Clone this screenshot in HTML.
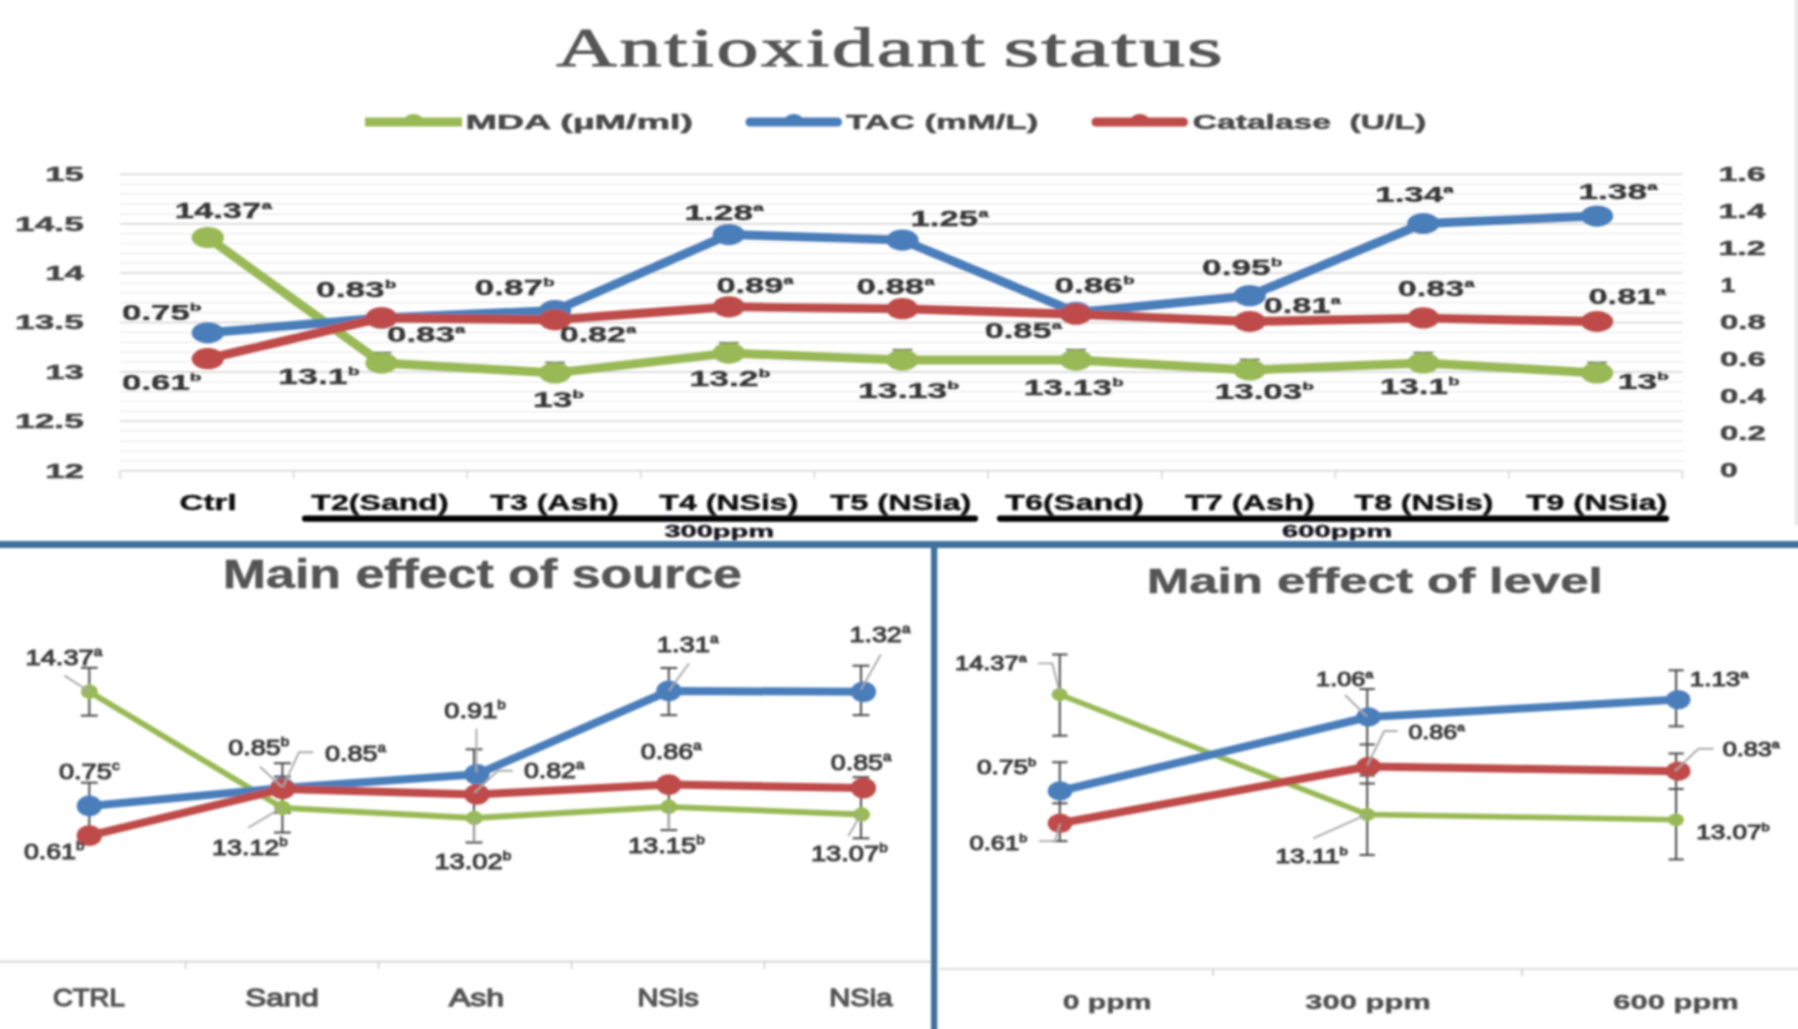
<!DOCTYPE html>
<html><head><meta charset="utf-8"><title>Antioxidant status</title>
<style>html,body{margin:0;padding:0;background:#fff;overflow:hidden}svg{display:block}</style>
</head><body>
<svg width="1798" height="1029" viewBox="0 0 1798 1029" font-family='"Liberation Sans", sans-serif'>
<rect width="1798" height="1029" fill="#fff"/>
<defs><filter id="soft" filterUnits="userSpaceOnUse" x="-20" y="-20" width="1840" height="1072"><feGaussianBlur stdDeviation="0.8"/></filter></defs>
<g filter="url(#soft)">
<g stroke="#ebebeb" stroke-width="1.2">
<line x1="120.0" x2="1682.5" y1="460.8" y2="460.8"/>
<line x1="120.0" x2="1682.5" y1="450.9" y2="450.9"/>
<line x1="120.0" x2="1682.5" y1="441.1" y2="441.1"/>
<line x1="120.0" x2="1682.5" y1="431.2" y2="431.2"/>
<line x1="120.0" x2="1682.5" y1="411.4" y2="411.4"/>
<line x1="120.0" x2="1682.5" y1="401.5" y2="401.5"/>
<line x1="120.0" x2="1682.5" y1="391.7" y2="391.7"/>
<line x1="120.0" x2="1682.5" y1="381.8" y2="381.8"/>
<line x1="120.0" x2="1682.5" y1="362.0" y2="362.0"/>
<line x1="120.0" x2="1682.5" y1="352.1" y2="352.1"/>
<line x1="120.0" x2="1682.5" y1="342.3" y2="342.3"/>
<line x1="120.0" x2="1682.5" y1="332.4" y2="332.4"/>
<line x1="120.0" x2="1682.5" y1="312.6" y2="312.6"/>
<line x1="120.0" x2="1682.5" y1="302.7" y2="302.7"/>
<line x1="120.0" x2="1682.5" y1="292.9" y2="292.9"/>
<line x1="120.0" x2="1682.5" y1="283.0" y2="283.0"/>
<line x1="120.0" x2="1682.5" y1="263.2" y2="263.2"/>
<line x1="120.0" x2="1682.5" y1="253.3" y2="253.3"/>
<line x1="120.0" x2="1682.5" y1="243.5" y2="243.5"/>
<line x1="120.0" x2="1682.5" y1="233.6" y2="233.6"/>
<line x1="120.0" x2="1682.5" y1="213.8" y2="213.8"/>
<line x1="120.0" x2="1682.5" y1="203.9" y2="203.9"/>
<line x1="120.0" x2="1682.5" y1="194.1" y2="194.1"/>
<line x1="120.0" x2="1682.5" y1="184.2" y2="184.2"/>
</g>
<g stroke="#d3d3d3" stroke-width="1.5">
<line x1="120.0" x2="1682.5" y1="470.7" y2="470.7"/>
<line x1="120.0" x2="1682.5" y1="421.3" y2="421.3"/>
<line x1="120.0" x2="1682.5" y1="371.9" y2="371.9"/>
<line x1="120.0" x2="1682.5" y1="322.5" y2="322.5"/>
<line x1="120.0" x2="1682.5" y1="273.1" y2="273.1"/>
<line x1="120.0" x2="1682.5" y1="223.7" y2="223.7"/>
<line x1="120.0" x2="1682.5" y1="174.3" y2="174.3"/>
<line x1="120.0" x2="120.0" y1="470.7" y2="478.7"/>
<line x1="293.6" x2="293.6" y1="470.7" y2="478.7"/>
<line x1="467.2" x2="467.2" y1="470.7" y2="478.7"/>
<line x1="640.8" x2="640.8" y1="470.7" y2="478.7"/>
<line x1="814.4" x2="814.4" y1="470.7" y2="478.7"/>
<line x1="988.1" x2="988.1" y1="470.7" y2="478.7"/>
<line x1="1161.7" x2="1161.7" y1="470.7" y2="478.7"/>
<line x1="1335.3" x2="1335.3" y1="470.7" y2="478.7"/>
<line x1="1508.9" x2="1508.9" y1="470.7" y2="478.7"/>
<line x1="1682.5" x2="1682.5" y1="470.7" y2="478.7"/>
</g>
<rect x="1795.5" y="-10" width="1.6" height="535" fill="#d6d6d6"/><rect x="1797.1" y="-10" width="4" height="535" fill="#f1f1f1"/>
<text y="65.8" font-size="54" font-weight="normal" fill="#555555" stroke="#555555" stroke-width="1.0" font-family='"Liberation Serif", serif'><tspan x="556.3" textLength="431.2" lengthAdjust="spacingAndGlyphs" letter-spacing="1.8">Antioxidant</tspan> <tspan x="1003.4" textLength="221.5" lengthAdjust="spacingAndGlyphs" letter-spacing="1.2">status</tspan></text>

<line x1="365" x2="462" y1="122" y2="122" stroke="#98b954" stroke-width="9" stroke-linecap="butt"/>
<ellipse cx="413.5" cy="119.8" rx="9" ry="5.9" fill="#98b954"/>
<line x1="750" x2="837.5" y1="122" y2="122" stroke="#4a7ebb" stroke-width="9" stroke-linecap="round"/>
<ellipse cx="793.8" cy="119.8" rx="9" ry="5.9" fill="#4a7ebb"/>
<line x1="1096" x2="1183.5" y1="122" y2="122" stroke="#be4b48" stroke-width="9" stroke-linecap="round"/>
<ellipse cx="1139.8" cy="119.8" rx="9" ry="5.9" fill="#be4b48"/>
<text x="465.4" y="128.9" font-size="21" font-weight="bold" fill="#484848" stroke="#484848" stroke-width="0.5" textLength="227.7" lengthAdjust="spacingAndGlyphs">MDA (µM/ml)</text>
<text x="846.1" y="128.9" font-size="21" font-weight="bold" fill="#484848" stroke="#484848" stroke-width="0.5" textLength="192.1" lengthAdjust="spacingAndGlyphs">TAC (mM/L)</text>
<text x="1192.8" y="128.9" font-size="21" font-weight="bold" fill="#484848" stroke="#484848" stroke-width="0.5" textLength="233.3" lengthAdjust="spacingAndGlyphs">Catalase  (U/L)</text>
<text x="45.3" y="181.1" font-size="19.5" font-weight="bold" fill="#444444" stroke="#444444" stroke-width="0.5" textLength="38.6" lengthAdjust="spacingAndGlyphs">15</text>
<text x="15.1" y="230.5" font-size="19.5" font-weight="bold" fill="#444444" stroke="#444444" stroke-width="0.5" textLength="68.7" lengthAdjust="spacingAndGlyphs">14.5</text>
<text x="45.3" y="279.9" font-size="19.5" font-weight="bold" fill="#444444" stroke="#444444" stroke-width="0.5" textLength="38.6" lengthAdjust="spacingAndGlyphs">14</text>
<text x="15.1" y="329.3" font-size="19.5" font-weight="bold" fill="#444444" stroke="#444444" stroke-width="0.5" textLength="68.7" lengthAdjust="spacingAndGlyphs">13.5</text>
<text x="45.3" y="378.7" font-size="19.5" font-weight="bold" fill="#444444" stroke="#444444" stroke-width="0.5" textLength="38.6" lengthAdjust="spacingAndGlyphs">13</text>
<text x="15.1" y="428.1" font-size="19.5" font-weight="bold" fill="#444444" stroke="#444444" stroke-width="0.5" textLength="68.7" lengthAdjust="spacingAndGlyphs">12.5</text>
<text x="45.3" y="477.5" font-size="19.5" font-weight="bold" fill="#444444" stroke="#444444" stroke-width="0.5" textLength="38.6" lengthAdjust="spacingAndGlyphs">12</text>
<text x="1718.4" y="181.1" font-size="19.5" font-weight="bold" fill="#444444" stroke="#444444" stroke-width="0.5" textLength="47.4" lengthAdjust="spacingAndGlyphs">1.6</text>
<text x="1718.4" y="218.1" font-size="19.5" font-weight="bold" fill="#444444" stroke="#444444" stroke-width="0.5" textLength="47.4" lengthAdjust="spacingAndGlyphs">1.4</text>
<text x="1718.4" y="255.1" font-size="19.5" font-weight="bold" fill="#444444" stroke="#444444" stroke-width="0.5" textLength="47.4" lengthAdjust="spacingAndGlyphs">1.2</text>
<text x="1720.5" y="292.1" font-size="19.5" font-weight="bold" fill="#444444" stroke="#444444" stroke-width="0.5" textLength="15.0" lengthAdjust="spacingAndGlyphs">1</text>
<text x="1720.1" y="329.1" font-size="19.5" font-weight="bold" fill="#444444" stroke="#444444" stroke-width="0.5" textLength="45.7" lengthAdjust="spacingAndGlyphs">0.8</text>
<text x="1720.1" y="366.1" font-size="19.5" font-weight="bold" fill="#444444" stroke="#444444" stroke-width="0.5" textLength="45.7" lengthAdjust="spacingAndGlyphs">0.6</text>
<text x="1720.1" y="403.1" font-size="19.5" font-weight="bold" fill="#444444" stroke="#444444" stroke-width="0.5" textLength="45.7" lengthAdjust="spacingAndGlyphs">0.4</text>
<text x="1720.1" y="440.1" font-size="19.5" font-weight="bold" fill="#444444" stroke="#444444" stroke-width="0.5" textLength="45.7" lengthAdjust="spacingAndGlyphs">0.2</text>
<text x="1720.1" y="477.1" font-size="19.5" font-weight="bold" fill="#444444" stroke="#444444" stroke-width="0.5" textLength="17.7" lengthAdjust="spacingAndGlyphs">0</text>
<g stroke="#444" stroke-width="1.5">
<line x1="371.5" x2="391.5" y1="352.6" y2="352.6"/>
<line x1="545.1" x2="565.1" y1="362.5" y2="362.5"/>
<line x1="718.8" x2="738.8" y1="342.7" y2="342.7"/>
<line x1="892.4" x2="912.4" y1="349.7" y2="349.7"/>
<line x1="1066.0" x2="1086.0" y1="349.7" y2="349.7"/>
<line x1="1239.7" x2="1259.7" y1="359.5" y2="359.5"/>
<line x1="1413.3" x2="1433.3" y1="352.6" y2="352.6"/>
<line x1="1587.0" x2="1607.0" y1="362.5" y2="362.5"/>
</g>
<polyline points="207.8,237.5 381.5,363.0 555.1,372.9 728.8,353.1 902.4,360.1 1076.0,360.1 1249.7,369.9 1423.3,363.0 1597.0,372.9" fill="none" stroke="#98b954" stroke-width="9" stroke-linejoin="round" stroke-linecap="round"/>
<ellipse cx="207.8" cy="237.5" rx="16.2" ry="10.6" fill="#98b954"/>
<ellipse cx="381.5" cy="363.0" rx="16.2" ry="10.6" fill="#98b954"/>
<ellipse cx="555.1" cy="372.9" rx="16.2" ry="10.6" fill="#98b954"/>
<ellipse cx="728.8" cy="353.1" rx="16.2" ry="10.6" fill="#98b954"/>
<ellipse cx="902.4" cy="360.1" rx="16.2" ry="10.6" fill="#98b954"/>
<ellipse cx="1076.0" cy="360.1" rx="16.2" ry="10.6" fill="#98b954"/>
<ellipse cx="1249.7" cy="369.9" rx="16.2" ry="10.6" fill="#98b954"/>
<ellipse cx="1423.3" cy="363.0" rx="16.2" ry="10.6" fill="#98b954"/>
<ellipse cx="1597.0" cy="372.9" rx="16.2" ry="10.6" fill="#98b954"/>
<polyline points="207.8,332.8 381.5,317.9 555.1,310.5 728.8,234.6 902.4,240.1 1076.0,312.4 1249.7,295.7 1423.3,223.5 1597.0,216.1" fill="none" stroke="#4a7ebb" stroke-width="9" stroke-linejoin="round" stroke-linecap="round"/>
<ellipse cx="207.8" cy="332.8" rx="16.2" ry="10.6" fill="#4a7ebb"/>
<ellipse cx="381.5" cy="317.9" rx="16.2" ry="10.6" fill="#4a7ebb"/>
<ellipse cx="555.1" cy="310.5" rx="16.2" ry="10.6" fill="#4a7ebb"/>
<ellipse cx="728.8" cy="234.6" rx="16.2" ry="10.6" fill="#4a7ebb"/>
<ellipse cx="902.4" cy="240.1" rx="16.2" ry="10.6" fill="#4a7ebb"/>
<ellipse cx="1076.0" cy="312.4" rx="16.2" ry="10.6" fill="#4a7ebb"/>
<ellipse cx="1249.7" cy="295.7" rx="16.2" ry="10.6" fill="#4a7ebb"/>
<ellipse cx="1423.3" cy="223.5" rx="16.2" ry="10.6" fill="#4a7ebb"/>
<ellipse cx="1597.0" cy="216.1" rx="16.2" ry="10.6" fill="#4a7ebb"/>
<polyline points="207.8,358.7 381.5,317.9 555.1,319.8 728.8,306.8 902.4,308.7 1076.0,314.2 1249.7,321.6 1423.3,317.9 1597.0,321.6" fill="none" stroke="#be4b48" stroke-width="9" stroke-linejoin="round" stroke-linecap="round"/>
<ellipse cx="207.8" cy="358.7" rx="16.2" ry="10.6" fill="#be4b48"/>
<ellipse cx="381.5" cy="317.9" rx="16.2" ry="10.6" fill="#be4b48"/>
<ellipse cx="555.1" cy="319.8" rx="16.2" ry="10.6" fill="#be4b48"/>
<ellipse cx="728.8" cy="306.8" rx="16.2" ry="10.6" fill="#be4b48"/>
<ellipse cx="902.4" cy="308.7" rx="16.2" ry="10.6" fill="#be4b48"/>
<ellipse cx="1076.0" cy="314.2" rx="16.2" ry="10.6" fill="#be4b48"/>
<ellipse cx="1249.7" cy="321.6" rx="16.2" ry="10.6" fill="#be4b48"/>
<ellipse cx="1423.3" cy="317.9" rx="16.2" ry="10.6" fill="#be4b48"/>
<ellipse cx="1597.0" cy="321.6" rx="16.2" ry="10.6" fill="#be4b48"/>
<text x="174.7" y="217.6" font-size="21.3" font-weight="bold" fill="#383838" stroke="#383838" stroke-width="0.5" textLength="97.3" lengthAdjust="spacingAndGlyphs">14.37<tspan font-size="11.7" dy="-8.9" stroke-width="0.45">a</tspan></text>
<text x="122.1" y="320.3" font-size="21.3" font-weight="bold" fill="#383838" stroke="#383838" stroke-width="0.5" textLength="79.4" lengthAdjust="spacingAndGlyphs">0.75<tspan font-size="11.7" dy="-8.9" stroke-width="0.45">b</tspan></text>
<text x="122.1" y="389.6" font-size="21.3" font-weight="bold" fill="#383838" stroke="#383838" stroke-width="0.5" textLength="79.4" lengthAdjust="spacingAndGlyphs">0.61<tspan font-size="11.7" dy="-8.9" stroke-width="0.45">b</tspan></text>
<text x="316.1" y="297.0" font-size="21.3" font-weight="bold" fill="#383838" stroke="#383838" stroke-width="0.5" textLength="80.4" lengthAdjust="spacingAndGlyphs">0.83<tspan font-size="11.7" dy="-8.9" stroke-width="0.45">b</tspan></text>
<text x="474.7" y="295.3" font-size="21.3" font-weight="bold" fill="#383838" stroke="#383838" stroke-width="0.5" textLength="80.1" lengthAdjust="spacingAndGlyphs">0.87<tspan font-size="11.7" dy="-8.9" stroke-width="0.45">b</tspan></text>
<text x="387.1" y="342.0" font-size="21.3" font-weight="bold" fill="#383838" stroke="#383838" stroke-width="0.5" textLength="78.4" lengthAdjust="spacingAndGlyphs">0.83<tspan font-size="11.7" dy="-8.9" stroke-width="0.45">a</tspan></text>
<text x="278.0" y="383.6" font-size="21.3" font-weight="bold" fill="#383838" stroke="#383838" stroke-width="0.5" textLength="81.8" lengthAdjust="spacingAndGlyphs">13.1<tspan font-size="11.7" dy="-8.9" stroke-width="0.45">b</tspan></text>
<text x="533.1" y="407.3" font-size="21.3" font-weight="bold" fill="#383838" stroke="#383838" stroke-width="0.5" textLength="51.1" lengthAdjust="spacingAndGlyphs">13<tspan font-size="11.7" dy="-8.9" stroke-width="0.45">b</tspan></text>
<text x="684.5" y="219.6" font-size="21.3" font-weight="bold" fill="#383838" stroke="#383838" stroke-width="0.5" textLength="79.3" lengthAdjust="spacingAndGlyphs">1.28<tspan font-size="11.7" dy="-8.9" stroke-width="0.45">a</tspan></text>
<text x="910.5" y="226.0" font-size="21.3" font-weight="bold" fill="#383838" stroke="#383838" stroke-width="0.5" textLength="78.3" lengthAdjust="spacingAndGlyphs">1.25<tspan font-size="11.7" dy="-8.9" stroke-width="0.45">a</tspan></text>
<text x="716.4" y="292.6" font-size="21.3" font-weight="bold" fill="#383838" stroke="#383838" stroke-width="0.5" textLength="77.4" lengthAdjust="spacingAndGlyphs">0.89<tspan font-size="11.7" dy="-8.9" stroke-width="0.45">a</tspan></text>
<text x="856.4" y="293.6" font-size="21.3" font-weight="bold" fill="#383838" stroke="#383838" stroke-width="0.5" textLength="78.4" lengthAdjust="spacingAndGlyphs">0.88<tspan font-size="11.7" dy="-8.9" stroke-width="0.45">a</tspan></text>
<text x="559.7" y="342.0" font-size="21.3" font-weight="bold" fill="#383838" stroke="#383838" stroke-width="0.5" textLength="76.8" lengthAdjust="spacingAndGlyphs">0.82<tspan font-size="11.7" dy="-8.9" stroke-width="0.45">a</tspan></text>
<text x="984.7" y="338.0" font-size="21.3" font-weight="bold" fill="#383838" stroke="#383838" stroke-width="0.5" textLength="77.4" lengthAdjust="spacingAndGlyphs">0.85<tspan font-size="11.7" dy="-8.9" stroke-width="0.45">a</tspan></text>
<text x="689.4" y="386.0" font-size="21.3" font-weight="bold" fill="#383838" stroke="#383838" stroke-width="0.5" textLength="81.1" lengthAdjust="spacingAndGlyphs">13.2<tspan font-size="11.7" dy="-8.9" stroke-width="0.45">b</tspan></text>
<text x="858.0" y="397.6" font-size="21.3" font-weight="bold" fill="#383838" stroke="#383838" stroke-width="0.5" textLength="101.1" lengthAdjust="spacingAndGlyphs">13.13<tspan font-size="11.7" dy="-8.9" stroke-width="0.45">b</tspan></text>
<text x="1023.8" y="394.8" font-size="21.3" font-weight="bold" fill="#383838" stroke="#383838" stroke-width="0.5" textLength="100.1" lengthAdjust="spacingAndGlyphs">13.13<tspan font-size="11.7" dy="-8.9" stroke-width="0.45">b</tspan></text>
<text x="1054.4" y="293.0" font-size="21.3" font-weight="bold" fill="#383838" stroke="#383838" stroke-width="0.5" textLength="80.4" lengthAdjust="spacingAndGlyphs">0.86<tspan font-size="11.7" dy="-8.9" stroke-width="0.45">b</tspan></text>
<text x="1202.1" y="275.3" font-size="21.3" font-weight="bold" fill="#383838" stroke="#383838" stroke-width="0.5" textLength="80.4" lengthAdjust="spacingAndGlyphs">0.95<tspan font-size="11.7" dy="-8.9" stroke-width="0.45">b</tspan></text>
<text x="1263.7" y="313.0" font-size="21.3" font-weight="bold" fill="#383838" stroke="#383838" stroke-width="0.5" textLength="77.4" lengthAdjust="spacingAndGlyphs">0.81<tspan font-size="11.7" dy="-8.9" stroke-width="0.45">a</tspan></text>
<text x="1397.7" y="296.0" font-size="21.3" font-weight="bold" fill="#383838" stroke="#383838" stroke-width="0.5" textLength="77.1" lengthAdjust="spacingAndGlyphs">0.83<tspan font-size="11.7" dy="-8.9" stroke-width="0.45">a</tspan></text>
<text x="1375.3" y="201.6" font-size="21.3" font-weight="bold" fill="#383838" stroke="#383838" stroke-width="0.5" textLength="78.5" lengthAdjust="spacingAndGlyphs">1.34<tspan font-size="11.7" dy="-8.9" stroke-width="0.45">a</tspan></text>
<text x="1214.8" y="398.6" font-size="21.3" font-weight="bold" fill="#383838" stroke="#383838" stroke-width="0.5" textLength="99.1" lengthAdjust="spacingAndGlyphs">13.03<tspan font-size="11.7" dy="-8.9" stroke-width="0.45">b</tspan></text>
<text x="1379.8" y="394.3" font-size="21.3" font-weight="bold" fill="#383838" stroke="#383838" stroke-width="0.5" textLength="80.1" lengthAdjust="spacingAndGlyphs">13.1<tspan font-size="11.7" dy="-8.9" stroke-width="0.45">b</tspan></text>
<text x="1578.5" y="198.6" font-size="21.3" font-weight="bold" fill="#383838" stroke="#383838" stroke-width="0.5" textLength="79.3" lengthAdjust="spacingAndGlyphs">1.38<tspan font-size="11.7" dy="-8.9" stroke-width="0.45">a</tspan></text>
<text x="1588.4" y="304.3" font-size="21.3" font-weight="bold" fill="#383838" stroke="#383838" stroke-width="0.5" textLength="77.7" lengthAdjust="spacingAndGlyphs">0.81<tspan font-size="11.7" dy="-8.9" stroke-width="0.45">a</tspan></text>
<text x="1617.8" y="388.6" font-size="21.3" font-weight="bold" fill="#383838" stroke="#383838" stroke-width="0.5" textLength="51.1" lengthAdjust="spacingAndGlyphs">13<tspan font-size="11.7" dy="-8.9" stroke-width="0.45">b</tspan></text>
<text x="179.6" y="510.2" font-size="22.5" font-weight="bold" fill="#0c0c0c" stroke="#0c0c0c" stroke-width="0.4" textLength="57.0" lengthAdjust="spacingAndGlyphs">Ctrl</text>
<text x="311.3" y="510.2" font-size="22.5" font-weight="bold" fill="#0c0c0c" stroke="#0c0c0c" stroke-width="0.4" textLength="137.4" lengthAdjust="spacingAndGlyphs">T2(Sand)</text>
<text x="490.3" y="510.2" font-size="22.5" font-weight="bold" fill="#0c0c0c" stroke="#0c0c0c" stroke-width="0.4" textLength="128.4" lengthAdjust="spacingAndGlyphs">T3 (Ash)</text>
<text x="659.3" y="510.2" font-size="22.5" font-weight="bold" fill="#0c0c0c" stroke="#0c0c0c" stroke-width="0.4" textLength="139.1" lengthAdjust="spacingAndGlyphs">T4 (NSis)</text>
<text x="830.3" y="510.2" font-size="22.5" font-weight="bold" fill="#0c0c0c" stroke="#0c0c0c" stroke-width="0.4" textLength="141.1" lengthAdjust="spacingAndGlyphs">T5 (NSia)</text>
<text x="1005.3" y="510.2" font-size="22.5" font-weight="bold" fill="#0c0c0c" stroke="#0c0c0c" stroke-width="0.4" textLength="138.4" lengthAdjust="spacingAndGlyphs">T6(Sand)</text>
<text x="1184.9" y="510.2" font-size="22.5" font-weight="bold" fill="#0c0c0c" stroke="#0c0c0c" stroke-width="0.4" textLength="129.8" lengthAdjust="spacingAndGlyphs">T7 (Ash)</text>
<text x="1354.6" y="510.2" font-size="22.5" font-weight="bold" fill="#0c0c0c" stroke="#0c0c0c" stroke-width="0.4" textLength="138.8" lengthAdjust="spacingAndGlyphs">T8 (NSis)</text>
<text x="1526.3" y="510.2" font-size="22.5" font-weight="bold" fill="#0c0c0c" stroke="#0c0c0c" stroke-width="0.4" textLength="141.1" lengthAdjust="spacingAndGlyphs">T9 (NSia)</text>
<g stroke="#000" stroke-width="6.2" stroke-linecap="round">
<line x1="305" x2="975" y1="518.6" y2="518.6"/>
<line x1="1000" x2="1666" y1="518.6" y2="518.6"/>
</g>
<text x="664.4" y="537.0" font-size="16" font-weight="bold" fill="#14121c" stroke="#14121c" stroke-width="0.4" textLength="109.7" lengthAdjust="spacingAndGlyphs">300ppm</text>
<text x="1282.1" y="537.0" font-size="16" font-weight="bold" fill="#14121c" stroke="#14121c" stroke-width="0.4" textLength="110.0" lengthAdjust="spacingAndGlyphs">600ppm</text>
<rect x="-12" y="541" width="1822" height="7" fill="#41719c"/>
<rect x="931" y="541" width="6.3" height="500" fill="#41719c"/>
<g stroke="#d0d0d0" stroke-width="1.7">
<line x1="-12" x2="931" y1="961.6" y2="961.6"/>
<line x1="185.6" x2="185.6" y1="961.6" y2="969"/>
<line x1="378.5" x2="378.5" y1="961.6" y2="969"/>
<line x1="571.5" x2="571.5" y1="961.6" y2="969"/>
<line x1="764.5" x2="764.5" y1="961.6" y2="969"/>
<line x1="937" x2="1810" y1="969" y2="969"/>
<line x1="1213.2" x2="1213.2" y1="969" y2="976"/>
<line x1="1522" x2="1522" y1="969" y2="976"/>
</g>
<text x="222.8" y="587.7" font-size="40.5" font-weight="bold" fill="#545454" stroke="#545454" stroke-width="0.5" textLength="519.1" lengthAdjust="spacingAndGlyphs">Main effect of source</text>
<text x="1146.8" y="593.3" font-size="35" font-weight="bold" fill="#545454" stroke="#545454" stroke-width="0.5" textLength="455.9" lengthAdjust="spacingAndGlyphs">Main effect of level</text>
<g stroke="#505050" stroke-width="2.1">
<line x1="89.3" x2="89.3" y1="667.8" y2="715.6"/>
<line x1="80.89999999999999" x2="97.7" y1="667.8" y2="667.8"/>
<line x1="80.89999999999999" x2="97.7" y1="715.6" y2="715.6"/>
<line x1="89.3" x2="89.3" y1="782.7" y2="836"/>
<line x1="80.89999999999999" x2="97.7" y1="782.7" y2="782.7"/>
<line x1="282.4" x2="282.4" y1="763.2" y2="832.5"/>
<line x1="274.0" x2="290.79999999999995" y1="763.2" y2="763.2"/>
<line x1="274.0" x2="290.79999999999995" y1="776.6" y2="776.6"/>
<line x1="274.0" x2="290.79999999999995" y1="812.8" y2="812.8"/>
<line x1="274.0" x2="290.79999999999995" y1="832.5" y2="832.5"/>
<line x1="474.0" x2="474.0" y1="749.3" y2="842.5"/>
<line x1="465.6" x2="482.4" y1="749.3" y2="749.3"/>
<line x1="465.6" x2="482.4" y1="842.5" y2="842.5"/>
<line x1="668.8" x2="668.8" y1="668" y2="715.1"/>
<line x1="660.4" x2="677.1999999999999" y1="668" y2="668"/>
<line x1="660.4" x2="677.1999999999999" y1="715.1" y2="715.1"/>
<line x1="668.8" x2="668.8" y1="784" y2="830.1"/>
<line x1="660.4" x2="677.1999999999999" y1="830.1" y2="830.1"/>
<line x1="861.0" x2="861.0" y1="665.7" y2="715.1"/>
<line x1="852.6" x2="869.4" y1="665.7" y2="665.7"/>
<line x1="852.6" x2="869.4" y1="715.1" y2="715.1"/>
<line x1="861.0" x2="861.0" y1="777.2" y2="838.3"/>
<line x1="852.6" x2="869.4" y1="777.2" y2="777.2"/>
<line x1="852.6" x2="869.4" y1="838.3" y2="838.3"/>
</g>
<polyline points="89.4,691.7 282.4,807.8 474.3,818.0 668.8,806.8 861.6,814.5" fill="none" stroke="#98b954" stroke-width="5.8" stroke-linejoin="round" stroke-linecap="round"/>
<ellipse cx="89.4" cy="691.7" rx="8.4" ry="7.2" fill="#98b954"/>
<ellipse cx="282.4" cy="807.8" rx="8.4" ry="7.2" fill="#98b954"/>
<ellipse cx="474.3" cy="818.0" rx="8.4" ry="7.2" fill="#98b954"/>
<ellipse cx="668.8" cy="806.8" rx="8.4" ry="7.2" fill="#98b954"/>
<ellipse cx="861.6" cy="814.5" rx="8.4" ry="7.2" fill="#98b954"/>
<polyline points="89.3,806.0 282.5,788.0 476.9,774.3 668.8,691.0 863.5,691.8" fill="none" stroke="#4a7ebb" stroke-width="8" stroke-linejoin="round" stroke-linecap="round"/>
<ellipse cx="89.3" cy="806.0" rx="12.6" ry="10.4" fill="#4a7ebb"/>
<ellipse cx="282.5" cy="788.0" rx="12.6" ry="10.4" fill="#4a7ebb"/>
<ellipse cx="476.9" cy="774.3" rx="12.6" ry="10.4" fill="#4a7ebb"/>
<ellipse cx="668.8" cy="691.0" rx="12.6" ry="10.4" fill="#4a7ebb"/>
<ellipse cx="863.5" cy="691.8" rx="12.6" ry="10.4" fill="#4a7ebb"/>
<polyline points="89.3,835.7 282.5,789.0 476.9,794.4 668.8,784.6 863.5,788.1" fill="none" stroke="#be4b48" stroke-width="8" stroke-linejoin="round" stroke-linecap="round"/>
<ellipse cx="89.3" cy="835.7" rx="12.6" ry="10.4" fill="#be4b48"/>
<ellipse cx="282.5" cy="789.0" rx="12.6" ry="10.4" fill="#be4b48"/>
<ellipse cx="476.9" cy="794.4" rx="12.6" ry="10.4" fill="#be4b48"/>
<ellipse cx="668.8" cy="784.6" rx="12.6" ry="10.4" fill="#be4b48"/>
<ellipse cx="863.5" cy="788.1" rx="12.6" ry="10.4" fill="#be4b48"/>
<g stroke="#a8a8a8" stroke-width="1.9" fill="none">
<polyline points="64.5,675.6 89.5,691.7"/>
<polyline points="260.0,766.7 281.7,786.7"/>
<polyline points="313.3,752.3 299.0,752.3 282.7,787.3"/>
<polyline points="512.8,770.8 497.9,770.8 474.3,792.7"/>
<polyline points="248.3,827.7 281.7,807.7"/>
<polyline points="476.4,728.8 476.4,772.6"/>
<polyline points="474.3,818.0 474.3,842.0"/>
<polyline points="689.1,663.3 668.8,690.9"/>
<polyline points="668.8,806.8 668.8,829.5"/>
<polyline points="880.8,654.5 861.0,689.5"/>
<polyline points="848.3,836.0 861.0,814.5"/>
</g>
<text x="25.5" y="665.3" font-size="22.3" font-weight="normal" fill="#3c3c3c" stroke="#3c3c3c" stroke-width="1.05" textLength="76.7" lengthAdjust="spacingAndGlyphs">14.37<tspan font-size="12.5" dy="-9.1" stroke-width="0.89">a</tspan></text>
<text x="58.9" y="779.3" font-size="22.3" font-weight="normal" fill="#3c3c3c" stroke="#3c3c3c" stroke-width="1.05" textLength="60.7" lengthAdjust="spacingAndGlyphs">0.75<tspan font-size="12.5" dy="-9.1" stroke-width="0.89">c</tspan></text>
<text x="23.9" y="858.6" font-size="22.3" font-weight="normal" fill="#3c3c3c" stroke="#3c3c3c" stroke-width="1.05" textLength="60.4" lengthAdjust="spacingAndGlyphs">0.61<tspan font-size="12.5" dy="-9.1" stroke-width="0.89">b</tspan></text>
<text x="228.3" y="755.3" font-size="22.3" font-weight="normal" fill="#3c3c3c" stroke="#3c3c3c" stroke-width="1.05" textLength="61.0" lengthAdjust="spacingAndGlyphs">0.85<tspan font-size="12.5" dy="-9.1" stroke-width="0.89">b</tspan></text>
<text x="324.9" y="761.3" font-size="22.3" font-weight="normal" fill="#3c3c3c" stroke="#3c3c3c" stroke-width="1.05" textLength="61.1" lengthAdjust="spacingAndGlyphs">0.85<tspan font-size="12.5" dy="-9.1" stroke-width="0.89">a</tspan></text>
<text x="444.3" y="718.3" font-size="22.3" font-weight="normal" fill="#3c3c3c" stroke="#3c3c3c" stroke-width="1.05" textLength="61.5" lengthAdjust="spacingAndGlyphs">0.91<tspan font-size="12.5" dy="-9.1" stroke-width="0.89">b</tspan></text>
<text x="523.9" y="777.6" font-size="22.3" font-weight="normal" fill="#3c3c3c" stroke="#3c3c3c" stroke-width="1.05" textLength="60.4" lengthAdjust="spacingAndGlyphs">0.82<tspan font-size="12.5" dy="-9.1" stroke-width="0.89">a</tspan></text>
<text x="212.1" y="854.6" font-size="22.3" font-weight="normal" fill="#3c3c3c" stroke="#3c3c3c" stroke-width="1.05" textLength="75.5" lengthAdjust="spacingAndGlyphs">13.12<tspan font-size="12.5" dy="-9.1" stroke-width="0.89">b</tspan></text>
<text x="434.4" y="869.0" font-size="22.3" font-weight="normal" fill="#3c3c3c" stroke="#3c3c3c" stroke-width="1.05" textLength="76.8" lengthAdjust="spacingAndGlyphs">13.02<tspan font-size="12.5" dy="-9.1" stroke-width="0.89">b</tspan></text>
<text x="656.7" y="652.2" font-size="22.3" font-weight="normal" fill="#3c3c3c" stroke="#3c3c3c" stroke-width="1.05" textLength="61.9" lengthAdjust="spacingAndGlyphs">1.31<tspan font-size="12.5" dy="-9.1" stroke-width="0.89">a</tspan></text>
<text x="849.4" y="642.0" font-size="22.3" font-weight="normal" fill="#3c3c3c" stroke="#3c3c3c" stroke-width="1.05" textLength="60.9" lengthAdjust="spacingAndGlyphs">1.32<tspan font-size="12.5" dy="-9.1" stroke-width="0.89">a</tspan></text>
<text x="640.8" y="759.3" font-size="22.3" font-weight="normal" fill="#3c3c3c" stroke="#3c3c3c" stroke-width="1.05" textLength="60.9" lengthAdjust="spacingAndGlyphs">0.86<tspan font-size="12.5" dy="-9.1" stroke-width="0.89">a</tspan></text>
<text x="830.8" y="769.8" font-size="22.3" font-weight="normal" fill="#3c3c3c" stroke="#3c3c3c" stroke-width="1.05" textLength="60.5" lengthAdjust="spacingAndGlyphs">0.85<tspan font-size="12.5" dy="-9.1" stroke-width="0.89">a</tspan></text>
<text x="627.9" y="853.1" font-size="22.3" font-weight="normal" fill="#3c3c3c" stroke="#3c3c3c" stroke-width="1.05" textLength="76.9" lengthAdjust="spacingAndGlyphs">13.15<tspan font-size="12.5" dy="-9.1" stroke-width="0.89">b</tspan></text>
<text x="810.9" y="860.7" font-size="22.3" font-weight="normal" fill="#3c3c3c" stroke="#3c3c3c" stroke-width="1.05" textLength="76.9" lengthAdjust="spacingAndGlyphs">13.07<tspan font-size="12.5" dy="-9.1" stroke-width="0.89">b</tspan></text>
<text x="53.0" y="1006.0" font-size="24" font-weight="normal" fill="#555555" stroke="#555555" stroke-width="1.3" textLength="71.7" lengthAdjust="spacingAndGlyphs">CTRL</text>
<text x="245.3" y="1006.0" font-size="24" font-weight="normal" fill="#555555" stroke="#555555" stroke-width="1.3" textLength="73.4" lengthAdjust="spacingAndGlyphs">Sand</text>
<text x="448.9" y="1006.0" font-size="24" font-weight="normal" fill="#555555" stroke="#555555" stroke-width="1.3" textLength="55.1" lengthAdjust="spacingAndGlyphs">Ash</text>
<text x="637.4" y="1006.0" font-size="24" font-weight="normal" fill="#555555" stroke="#555555" stroke-width="1.3" textLength="61.3" lengthAdjust="spacingAndGlyphs">NSis</text>
<text x="829.3" y="1006.0" font-size="24" font-weight="normal" fill="#555555" stroke="#555555" stroke-width="1.3" textLength="63.1" lengthAdjust="spacingAndGlyphs">NSia</text>
<g stroke="#505050" stroke-width="2.1">
<line x1="1059.8" x2="1059.8" y1="654.5" y2="735.7"/>
<line x1="1052.1" x2="1067.5" y1="654.5" y2="654.5"/>
<line x1="1052.1" x2="1067.5" y1="735.7" y2="735.7"/>
<line x1="1059.8" x2="1059.8" y1="762.2" y2="841.1"/>
<line x1="1052.1" x2="1067.5" y1="762.2" y2="762.2"/>
<line x1="1052.1" x2="1067.5" y1="803.3" y2="803.3"/>
<line x1="1052.1" x2="1067.5" y1="841.1" y2="841.1"/>
<line x1="1367.2" x2="1367.2" y1="689" y2="855"/>
<line x1="1359.5" x2="1374.9" y1="689" y2="689"/>
<line x1="1359.5" x2="1374.9" y1="744.5" y2="744.5"/>
<line x1="1359.5" x2="1374.9" y1="775.5" y2="775.5"/>
<line x1="1359.5" x2="1374.9" y1="783.5" y2="783.5"/>
<line x1="1359.5" x2="1374.9" y1="855" y2="855"/>
<line x1="1676.1" x2="1676.1" y1="670.3" y2="726.3"/>
<line x1="1668.5" x2="1683.6999999999998" y1="670.3" y2="670.3"/>
<line x1="1668.5" x2="1683.6999999999998" y1="726.3" y2="726.3"/>
<line x1="1676.1" x2="1676.1" y1="753.5" y2="859.4"/>
<line x1="1668.5" x2="1683.6999999999998" y1="753.5" y2="753.5"/>
<line x1="1668.5" x2="1683.6999999999998" y1="789" y2="789"/>
<line x1="1668.5" x2="1683.6999999999998" y1="859.4" y2="859.4"/>
</g>
<polyline points="1059.6,694.5 1367.2,814.4 1676.0,819.8" fill="none" stroke="#98b954" stroke-width="5.5" stroke-linejoin="round" stroke-linecap="round"/>
<ellipse cx="1059.6" cy="694.5" rx="8" ry="6.4" fill="#98b954"/>
<ellipse cx="1367.2" cy="814.4" rx="8" ry="6.4" fill="#98b954"/>
<ellipse cx="1676.0" cy="819.8" rx="8" ry="6.4" fill="#98b954"/>
<polyline points="1060.0,791.0 1368.4,717.0 1678.2,699.6" fill="none" stroke="#4a7ebb" stroke-width="8" stroke-linejoin="round" stroke-linecap="round"/>
<ellipse cx="1060.0" cy="791.0" rx="12.3" ry="9.7" fill="#4a7ebb"/>
<ellipse cx="1368.4" cy="717.0" rx="12.3" ry="9.7" fill="#4a7ebb"/>
<ellipse cx="1678.2" cy="699.6" rx="12.3" ry="9.7" fill="#4a7ebb"/>
<polyline points="1060.0,823.3 1368.4,766.5 1678.2,771.2" fill="none" stroke="#be4b48" stroke-width="8" stroke-linejoin="round" stroke-linecap="round"/>
<ellipse cx="1060.0" cy="823.3" rx="12.3" ry="9.7" fill="#be4b48"/>
<ellipse cx="1368.4" cy="766.5" rx="12.3" ry="9.7" fill="#be4b48"/>
<ellipse cx="1678.2" cy="771.2" rx="12.3" ry="9.7" fill="#be4b48"/>
<g stroke="#a8a8a8" stroke-width="1.9" fill="none">
<polyline points="1037.9,663.4 1052.3,663.4 1059.6,692.0"/>
<polyline points="1038.9,841.1 1055.2,841.1 1060.0,823.7"/>
<polyline points="1345.0,695.0 1367.0,716.5"/>
<polyline points="1397.7,731.0 1384.3,731.0 1367.2,765.5"/>
<polyline points="1313.3,838.3 1367.0,814.4"/>
<polyline points="1713.5,748.8 1698.5,748.8 1675.0,771.0"/>
</g>
<text x="955.0" y="669.8" font-size="19.6" font-weight="normal" fill="#3c3c3c" stroke="#3c3c3c" stroke-width="1.05" textLength="71.6" lengthAdjust="spacingAndGlyphs">14.37<tspan font-size="11.0" dy="-8.0" stroke-width="0.89">a</tspan></text>
<text x="977.0" y="773.6" font-size="19.6" font-weight="normal" fill="#3c3c3c" stroke="#3c3c3c" stroke-width="1.05" textLength="59.3" lengthAdjust="spacingAndGlyphs">0.75<tspan font-size="11.0" dy="-8.0" stroke-width="0.89">b</tspan></text>
<text x="969.5" y="849.5" font-size="19.6" font-weight="normal" fill="#3c3c3c" stroke="#3c3c3c" stroke-width="1.05" textLength="57.8" lengthAdjust="spacingAndGlyphs">0.61<tspan font-size="11.0" dy="-8.0" stroke-width="0.89">b</tspan></text>
<text x="1316.1" y="686.0" font-size="19.6" font-weight="normal" fill="#3c3c3c" stroke="#3c3c3c" stroke-width="1.05" textLength="57.1" lengthAdjust="spacingAndGlyphs">1.06<tspan font-size="11.0" dy="-8.0" stroke-width="0.89">a</tspan></text>
<text x="1408.4" y="739.3" font-size="19.6" font-weight="normal" fill="#3c3c3c" stroke="#3c3c3c" stroke-width="1.05" textLength="56.5" lengthAdjust="spacingAndGlyphs">0.86<tspan font-size="11.0" dy="-8.0" stroke-width="0.89">a</tspan></text>
<text x="1275.4" y="863.0" font-size="19.6" font-weight="normal" fill="#3c3c3c" stroke="#3c3c3c" stroke-width="1.05" textLength="72.4" lengthAdjust="spacingAndGlyphs">13.11<tspan font-size="11.0" dy="-8.0" stroke-width="0.89">b</tspan></text>
<text x="1689.8" y="685.8" font-size="19.6" font-weight="normal" fill="#3c3c3c" stroke="#3c3c3c" stroke-width="1.05" textLength="58.6" lengthAdjust="spacingAndGlyphs">1.13<tspan font-size="11.0" dy="-8.0" stroke-width="0.89">a</tspan></text>
<text x="1722.7" y="755.6" font-size="19.6" font-weight="normal" fill="#3c3c3c" stroke="#3c3c3c" stroke-width="1.05" textLength="57.0" lengthAdjust="spacingAndGlyphs">0.83<tspan font-size="11.0" dy="-8.0" stroke-width="0.89">a</tspan></text>
<text x="1696.2" y="838.6" font-size="19.6" font-weight="normal" fill="#3c3c3c" stroke="#3c3c3c" stroke-width="1.05" textLength="73.5" lengthAdjust="spacingAndGlyphs">13.07<tspan font-size="11.0" dy="-8.0" stroke-width="0.89">b</tspan></text>
<text x="1062.7" y="1009.0" font-size="20" font-weight="bold" fill="#505050" stroke="#505050" stroke-width="0.4" textLength="88.9" lengthAdjust="spacingAndGlyphs">0 ppm</text>
<text x="1305.3" y="1009.0" font-size="20" font-weight="bold" fill="#505050" stroke="#505050" stroke-width="0.4" textLength="125.6" lengthAdjust="spacingAndGlyphs">300 ppm</text>
<text x="1613.3" y="1009.0" font-size="20" font-weight="bold" fill="#505050" stroke="#505050" stroke-width="0.4" textLength="125.6" lengthAdjust="spacingAndGlyphs">600 ppm</text>
</g>
</svg>
</body></html>
